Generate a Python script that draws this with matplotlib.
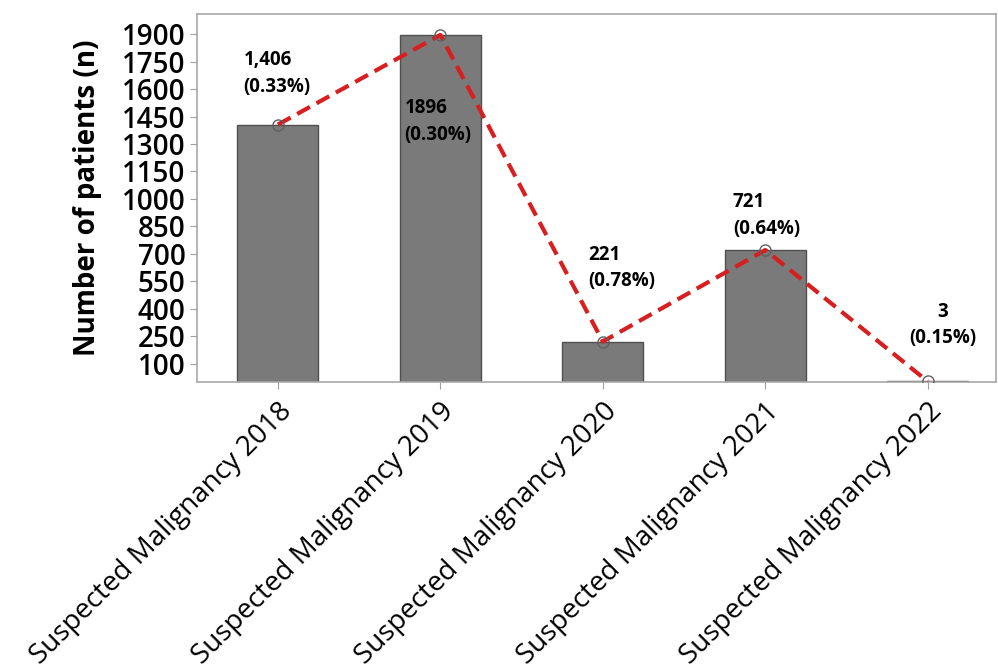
import matplotlib
matplotlib.use("Agg")
import matplotlib.pyplot as plt
import numpy as np

categories = ["Suspected Malignancy 2018", "Suspected Malignancy 2019",
              "Suspected Malignancy 2020", "Suspected Malignancy 2021",
              "Suspected Malignancy 2022"]
patients = [1406, 1896, 221, 721, 3]
labels = ["1,406\n(0.33%)", "1896\n(0.30%)", "221\n(0.78%)", "721\n(0.64%)", "3\n(0.15%)"]
yticks = np.arange(100, 1901, 150)

# label anchors (data coords) and alignment
label_x = [-0.21, 0.78, 1.91, 2.80, 4.09]
label_y = [1685, 1423, 621, 910, 310]
label_ha = ["left", "left", "left", "left", "center"]

plt.rcParams['font.family'] = ['Open Sans', 'DejaVu Sans']

fig = plt.figure(figsize=(9.98, 6.69), dpi=100)
ax = fig.add_axes([0.197, 0.429, 0.801, 0.55])

x = np.arange(len(categories))
ax.bar(x, patients, width=0.5, color="#7a7a7a", edgecolor="#505050", linewidth=1)
ax.plot(x, patients, color="#d81e1e", linestyle=(0, (3.5, 1.8)), linewidth=3, zorder=3)
ax.plot(x, patients, linestyle="none", marker="o", markersize=8,
        markerfacecolor="none", markeredgecolor="#606060", markeredgewidth=1, zorder=4)

for txt, lx, ly, ha in zip(labels, label_x, label_y, label_ha):
    ax.text(lx, ly, txt, ha=ha, va="center", multialignment="center" if ha == "center" else "left",
            fontsize=13.5, fontweight="bold", linespacing=1.42)

ax.set_xlim(-0.5, 4.42)
ax.set_ylim(0, 2010)
ax.set_yticks(yticks)
ax.set_xticks(x)
ax.set_xticklabels(categories, rotation=45, ha="right", rotation_mode="anchor",
                   fontsize=20)
ax.tick_params(axis="y", labelsize=20, length=5, color="#a0a0a0", pad=3)
ax.tick_params(axis="x", length=5, color="#a0a0a0", pad=6)
for lbl in ax.get_yticklabels():
    lbl.set_fontweight("semibold")
ax.set_ylabel("Number of patients (n)", fontsize=20, fontweight="bold", labelpad=14)
for s in ax.spines.values():
    s.set_color("#a8a8a8")
    s.set_linewidth(1.2)

fig.savefig("out.png", dpi=100)
